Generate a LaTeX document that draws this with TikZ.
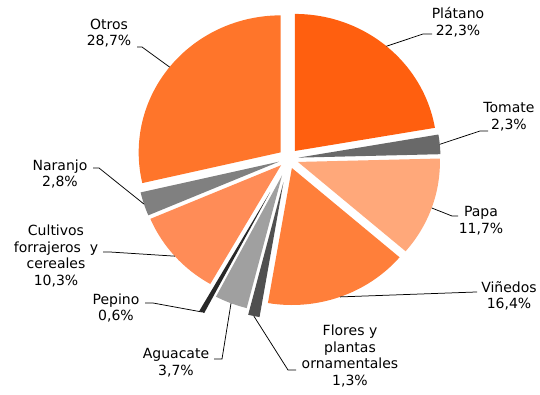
\documentclass[tikz,border=0pt]{standalone}
\usepackage{fontspec}
\setmainfont{DejaVu Sans}
\usetikzlibrary{calc}

\definecolor{platanoC}{RGB}{255,95,15}
\definecolor{tomateC}{RGB}{105,105,105}
\definecolor{papaC}{RGB}{255,168,122}
\definecolor{vinedosC}{RGB}{255,127,58}
\definecolor{floresC}{RGB}{80,80,80}
\definecolor{aguacateC}{RGB}{160,160,160}
\definecolor{pepinoC}{RGB}{40,40,40}
\definecolor{cultivosC}{RGB}{255,140,87}
\definecolor{naranjoC}{RGB}{128,128,128}
\definecolor{otrosC}{RGB}{255,117,42}

\tikzset{
  lbl/.style={align=center, font=\fontsize{14}{16.7}\selectfont, inner sep=0pt},
  leader/.style={line width=0.75pt, black}
}

\begin{document}
\begin{tikzpicture}[x=1pt, y=1pt]
\useasboundingbox (0,0) rectangle (540,394);

% Slices: name/start/stop/explode/colour, clockwise from the top
\begin{scope}[shift={(288.5,235.4)}]
\foreach \n/\a/\b/\ex/\c in {platano/90/9.72/10/platanoC,
    tomate/9.72/1.44/10/tomateC,
    papa/1.44/-40.68/10/papaC,
    vinedos/-40.68/-99.72/10/vinedosC,
    flores/-99.72/-104.40/24/floresC,
    aguacate/-104.40/-117.72/18/aguacateC,
    pepino/-117.72/-119.88/38/pepinoC,
    cultivos/-119.88/-156.96/10/cultivosC,
    naranjo/-156.96/-167.04/10/naranjoC,
    otros/-167.04/-270/10/otrosC} {
  \pgfmathsetmacro{\m}{(\a+\b)/2}
  \fill[\c, shift={(\m:\ex)}] (0,0) -- (\a:142 and 137)
    arc[start angle=\a, end angle=\b, x radius=142, y radius=137] -- cycle;
  % point on the rim where the leader starts
  \path[shift={(\m:\ex)}] (\m:142 and 137) coordinate (\n-e);
}
\end{scope}

% Labels
\foreach \n/\x/\y/\t in {platano/458/372/{Plátano\\22,3\%},
    tomate/509/277/{Tomate\\2,3\%},
    papa/481/173/{Papa\\11,7\%},
    vinedos/509/98/{Viñedos\\16,4\%},
    flores/350/38/{Flores y\\plantas\\ornamentales\\1,3\%},
    aguacate/176/31/{Aguacate\\3,7\%},
    pepino/116/86/{Pepino\\0,6\%},
    cultivos/56/138/{Cultivos\\forrajeros~~y\\cereales\\10,3\%},
    naranjo/60/220/{Naranjo\\2,8\%},
    otros/109/361/{Otros\\28,7\%}} {
  \node[lbl] (\n) at (\x,\y) {\t};
}

% Knee and end of each leader line
\foreach \n/\kx/\ky/\tx/\ty in {platano/423/360/432/360,
    tomate/480/263/488/263,
    papa/452/178/458/178,
    vinedos/476/102/477/102,
    flores/288/24/296/24,
    aguacate/222/35/214/35,
    pepino/153/91/145/91,
    cultivos/110/142/103/142,
    naranjo/99/226/93/226,
    otros/142/347/137/347} {
  \coordinate (\n-k) at (\kx,\ky);
  \coordinate (\n-t) at (\tx,\ty);
}

\foreach \n in {platano, tomate, papa, vinedos, flores, aguacate, pepino, cultivos, naranjo, otros} {
  \draw[leader] (\n-e) -- (\n-k) -- (\n-t);
}

\end{tikzpicture}
\end{document}
